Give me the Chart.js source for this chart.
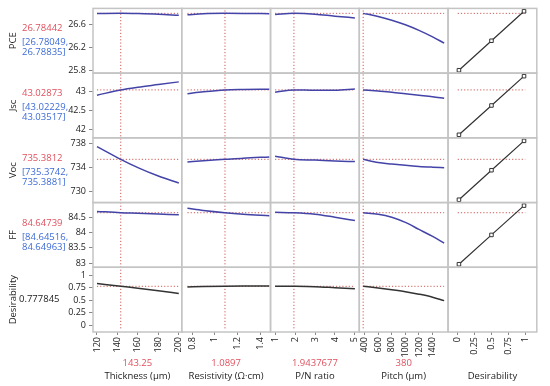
<!DOCTYPE html>
<html>
<head>
<meta charset="utf-8">
<script src="https://cdn.jsdelivr.net/npm/chart.js@4"></script>
<style>
  html, body { margin: 0; padding: 0; background: #fff; }
</style>
</head>
<body>
<canvas id="profiler" width="550" height="386"></canvas>
<script>
// factor settings used for each profile trace
const thicknessX = [120, 143.25, 160, 180, 200];
const resistivityX = [0.76, 0.9, 1.0897, 1.25, 1.48];
const pnRatioX = [1, 1.9437677, 3, 4, 5];
const pitchX = [380, 600, 800, 1000, 1200, 1400, 1570];

// current factor values (red, under the axes)
const factorNames = ['Thickness (µm)', 'Resistivity (Ω·cm)', 'P/N ratio', 'Pitch (µm)'];
const factorCurrent = [143.25, 1.0897, 1.9437677, 380];
const factorLabels = ['143.25', '1.0897', '1.9437677', '380'];

// predicted responses along each factor
const pceThickness = [26.780, 26.784, 26.780, 26.770, 26.750];
const pceResistivity = [26.760, 26.778, 26.784, 26.783, 26.778];
const pcePnRatio = [26.765, 26.784, 26.770, 26.735, 26.705];
const pcePitch = [26.784, 26.731, 26.666, 26.586, 26.490, 26.377, 26.270];

const jscThickness = [42.89, 43.029, 43.10, 43.17, 43.24];
const jscResistivity = [42.93, 42.98, 43.029, 43.04, 43.045];
const jscPnRatio = [42.97, 43.029, 43.02, 43.02, 43.05];
const jscPitch = [43.029, 43.00, 42.97, 42.93, 42.89, 42.85, 42.81];

const vocThickness = [737.5, 735.381, 734.0, 732.6, 731.45];
const vocResistivity = [734.95, 735.15, 735.381, 735.58, 735.78];
const vocPnRatio = [735.9, 735.381, 735.25, 735.1, 735.0];
const vocPitch = [735.381, 734.85, 734.6, 734.38, 734.2, 734.08, 734.0];

const ffThickness = [84.69, 84.647, 84.63, 84.605, 84.58];
const ffResistivity = [84.79, 84.72, 84.647, 84.60, 84.55];
const ffPnRatio = [84.66, 84.647, 84.60, 84.50, 84.39];
const ffPitch = [84.647, 84.60, 84.50, 84.33, 84.10, 83.87, 83.65];

const desThickness = [0.833, 0.778, 0.74, 0.69, 0.635];
const desResistivity = [0.766, 0.772, 0.778, 0.782, 0.786];
const desPnRatio = [0.78, 0.778, 0.77, 0.75, 0.73];
const desPitch = [0.778, 0.745, 0.71, 0.67, 0.62, 0.56, 0.49];

// desirability functions (last column)
const desirabilityLevels = [0.0183, 0.5, 0.9819];
const pceDesirability = [25.8, 26.31, 26.82];
const jscDesirability = [41.85, 42.62, 43.39];
const vocDesirability = [728.67, 733.57, 738.45];
const ffDesirability = [82.96, 83.92, 84.88];

// responses: names, current prediction and confidence interval
const responseNames = ['PCE', 'Jsc', 'Voc', 'FF', 'Desirability'];
const responseCurrent = [26.78442, 43.02873, 735.3812, 84.64739, 0.777845];
const responseLabels = ['26.78442', '43.02873', '735.3812', '84.64739', '0.777845'];
const responseLower = ['[26.78049,', '[43.02229,', '[735.3742,', '[84.64516,', ''];
const responseUpper = ['26.78835]', '43.03517]', '735.3881]', '84.64963]', ''];

// tick labels
const pceTicks = [25.8, 26.2, 26.6];
const jscTicks = [42, 42.5, 43];
const vocTicks = [730, 734, 738];
const ffTicks = [83, 83.5, 84, 84.5];
const desTicks = [0, 0.25, 0.5, 0.75, 1];
const thicknessTicks = [120, 140, 160, 180, 200];
const resistivityTicks = [0.8, 1, 1.2, 1.4];
const pnRatioTicks = [1, 2, 3, 4, 5];
const pitchTicks = [400, 600, 800, 1000, 1200, 1400];
const desirabilityTicks = [0, 0.25, 0.5, 0.75, 1];

const factorX = [thicknessX, resistivityX, pnRatioX, pitchX];
const traces = [
  [pceThickness, pceResistivity, pcePnRatio, pcePitch],
  [jscThickness, jscResistivity, jscPnRatio, jscPitch],
  [vocThickness, vocResistivity, vocPnRatio, vocPitch],
  [ffThickness, ffResistivity, ffPnRatio, ffPitch],
  [desThickness, desResistivity, desPnRatio, desPitch]
];
const desFunctions = [pceDesirability, jscDesirability, vocDesirability, ffDesirability];
const yTicks = [pceTicks, jscTicks, vocTicks, ffTicks, desTicks];
const xTicks = [thicknessTicks, resistivityTicks, pnRatioTicks, pitchTicks, desirabilityTicks];
const yRanges = [[25.75, 26.87], [41.77, 43.47], [728.2, 738.95], [82.86, 84.98], [-0.14, 1.16]];
const xRanges = [[116.1, 202.9], [0.71, 1.49], [0.77, 5.22], [323, 1627], [-0.143, 1.171]];

const FONT = '"Open Sans", "Noto Sans", sans-serif';
const RED = '#e0505e';
const BLUE = '#3d6bd6';
const CURVE = '#4343a8';

const datasets = [];
traces.forEach((row, r) => {
  row.forEach((vals, c) => {
    datasets.push({
      data: vals.map((v, i) => ({x: factorX[c][i], y: v})),
      xAxisID: 'x' + c,
      yAxisID: 'y' + r,
      borderColor: r === 4 ? '#333' : CURVE,
      borderWidth: 1.5,
      pointRadius: 0,
      cubicInterpolationMode: 'monotone'
    });
  });
});
desFunctions.forEach((vals, r) => {
  datasets.push({
    data: vals.map((v, i) => ({x: desirabilityLevels[i], y: v})),
    xAxisID: 'x4',
    yAxisID: 'y' + r,
    borderColor: '#333',
    borderWidth: 1.2,
    pointStyle: 'rect',
    pointRadius: 2.5,
    pointBackgroundColor: '#fff',
    pointBorderColor: '#333',
    pointBorderWidth: 1
  });
});

const scales = {};
for (let c = 0; c < 5; c++) {
  scales['x' + c] = {
    type: 'linear',
    position: 'bottom',
    stack: 'cols',
    weight: c,
    min: xRanges[c][0],
    max: xRanges[c][1],
    afterBuildTicks: s => { s.ticks = xTicks[c].map(v => ({value: v})); },
    afterFit: s => { s.height = 54; },
    grid: {display: true, drawOnChartArea: false, tickLength: 3, color: '#888'},
    border: {display: false},
    ticks: {
      autoSkip: false, minRotation: 90, maxRotation: 90, padding: 2,
      color: '#222', font: {family: FONT, size: 9},
      callback: v => String(v)
    },
    title: {display: true, text: c < 4 ? factorNames[c] : 'Desirability', color: '#222',
      font: {family: FONT, size: 9.5}, padding: {top: 0, bottom: 4}}
  };
}
for (let r = 0; r < 5; r++) {
  scales['y' + r] = {
    type: 'linear',
    position: 'left',
    stack: 'rows',
    weight: 5 - r,
    min: yRanges[r][0],
    max: yRanges[r][1],
    afterBuildTicks: s => { s.ticks = yTicks[r].map(v => ({value: v})); },
    afterFit: s => { s.width = 93; },
    grid: {display: true, drawOnChartArea: false, tickLength: 4, color: '#888'},
    border: {display: false},
    ticks: {autoSkip: false, color: '#222', font: {family: FONT, size: 9}, padding: 3,
      callback: v => String(v)},
    title: {display: true, text: responseNames[r], color: '#222',
      font: {family: FONT, size: 9.5}, padding: {top: 8, bottom: 0}}
  };
}

const overlay = {
  id: 'overlay',
  beforeDatasetsDraw(chart) {
    const ctx = chart.ctx;
    const area = chart.chartArea;
    ctx.save();
    ctx.strokeStyle = '#cf5a56';
    ctx.lineWidth = 1;
    ctx.setLineDash([1.2, 2]);
    // vertical lines at current factor settings
    factorCurrent.forEach((v, c) => {
      const px = chart.scales['x' + c].getPixelForValue(v);
      ctx.beginPath();
      ctx.moveTo(px, area.top + 2);
      ctx.lineTo(px, area.bottom - 2);
      ctx.stroke();
    });
    // horizontal lines at current predictions
    responseCurrent.forEach((v, r) => {
      const py = chart.scales['y' + r].getPixelForValue(v);
      for (let c = 0; c < 5; c++) {
        if (c === 4 && r === 4) continue;
        const xs = chart.scales['x' + c];
        const lo = c < 4 ? factorX[c][0] : 0;
        const hi = c < 4 ? factorX[c][factorX[c].length - 1] : 1;
        ctx.beginPath();
        ctx.moveTo(xs.getPixelForValue(lo), py);
        ctx.lineTo(xs.getPixelForValue(hi), py);
        ctx.stroke();
      }
    });
    ctx.restore();
  },
  afterDraw(chart) {
    const ctx = chart.ctx;
    const area = chart.chartArea;
    ctx.save();
    // cell borders
    ctx.strokeStyle = '#c4c4c4';
    ctx.lineWidth = 1.5;
    for (let c = 0; c < 5; c++) {
      const s = chart.scales['x' + c];
      for (let r = 0; r < 5; r++) {
        const t = chart.scales['y' + r];
        ctx.strokeRect(s.left, t.top, s.right - s.left, t.bottom - t.top);
      }
    }
    // response values and intervals on the left
    ctx.textBaseline = 'middle';
    ctx.textAlign = 'left';
    ctx.font = '9.5px ' + FONT;
    for (let r = 0; r < 5; r++) {
      const t = chart.scales['y' + r];
      const cy = (t.top + t.bottom) / 2;
      if (r === 4) {
        ctx.fillStyle = '#222';
        ctx.fillText(responseLabels[r], 19, cy);
        continue;
      }
      ctx.fillStyle = RED;
      ctx.fillText(responseLabels[r], 22, cy - 12);
      ctx.fillStyle = BLUE;
      ctx.fillText(responseLower[r], 22, cy + 2);
      ctx.fillText(responseUpper[r], 22, cy + 12);
    }
    // current factor values under the axes
    ctx.textAlign = 'center';
    ctx.fillStyle = RED;
    for (let c = 0; c < 4; c++) {
      const s = chart.scales['x' + c];
      ctx.fillText(factorLabels[c], (s.left + s.right) / 2, area.bottom + 31);
    }
    ctx.restore();
  }
};

new Chart(document.getElementById('profiler'), {
  type: 'line',
  data: {datasets: datasets},
  options: {
    responsive: false,
    animation: false,
    layout: {padding: {top: 7, right: 4, left: 0, bottom: 0}},
    plugins: {legend: {display: false}, tooltip: {enabled: false}},
    scales: scales
  },
  plugins: [overlay]
});
</script>
</body>
</html>
